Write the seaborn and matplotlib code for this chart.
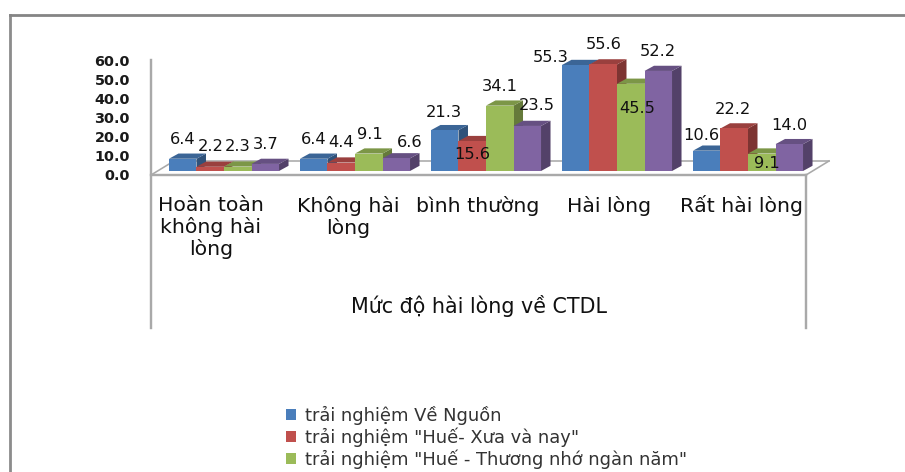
import matplotlib
matplotlib.use("Agg")
import matplotlib.pyplot as plt
from matplotlib.lines import Line2D
from matplotlib.patches import Polygon
from matplotlib.transforms import ScaledTranslation
from matplotlib.colors import to_rgb
import pandas as pd
import seaborn as sns

categories = ["Hoàn toàn không hài lòng", "Không hài lòng", "bình thường", "Hài lòng", "Rất hài lòng"]
tick_labels = ["Hoàn toàn\nkhông hài\nlòng", "Không hài\nlòng", "bình thường", "Hài lòng", "Rất hài lòng"]
series_names = ['trải nghiệm Về Nguồn', 'trải nghiệm "Huế- Xưa và nay"',
                'trải nghiệm "Huế - Thương nhớ ngàn năm"', 'trải nghiệm khác']
ve_nguon = [6.4, 6.4, 21.3, 55.3, 10.6]
xua_va_nay = [2.2, 4.4, 15.6, 55.6, 22.2]
thuong_nho = [2.3, 9.1, 34.1, 45.5, 9.1]
khac = [3.7, 6.6, 23.5, 52.2, 14.0]
colors = ["#4a7ebb", "#c0504d", "#9bbb59", "#8064a2"]
y_ticks = [0, 10, 20, 30, 40, 50, 60]
axis_title = "Mức độ hài lòng về CTDL"

W, H = 905, 472
sns.set_theme(style="white")
plt.rcParams["font.family"] = ["DejaVu Sans"]

rows = []
for name, vals in zip(series_names, [ve_nguon, xua_va_nay, thuong_nho, khac]):
    for c, v in zip(categories, vals):
        rows.append({"cat": c, "series": name, "value": v})
df = pd.DataFrame(rows)

fig = plt.figure(figsize=(W / 100, H / 100), dpi=100, facecolor="white")
ax = fig.add_axes([158.5 / W, (H - 171) / H, 655 / W, 115 / H])
ax.patch.set_alpha(0)
sns.barplot(data=df, x="cat", y="value", hue="series", palette=colors, width=0.84, gap=0,
            saturation=1, errorbar=None, ax=ax, linewidth=0)
ax.set_xlim(-0.5, 4.5)
ax.set_ylim(0, 60)
sns.despine(ax=ax, left=True, bottom=True)
ax.set_ylabel("")


def px(x, y):
    return x / W, 1 - y / H


def shade(c, f):
    return tuple(v * f for v in to_rgb(c))


grey = "#a9a9a9"
for (x0, y0), (x1, y1), col, lw in [
    ((151, 60), (151, 328), grey, 2.4),
    ((806, 175), (806, 328), grey, 2.4),
    ((151, 175), (806, 175), grey, 2.4),
    ((151, 175), (174, 161), grey, 1.6),
    ((806, 175), (829, 161), grey, 1.6),
    ((174, 161), (829, 161), grey, 1.6),
    ((10, 15), (10, 472), "#8c8c8c", 2.8),
    ((10, 15), (905, 15), "#858585", 2.8),
]:
    a, b = px(x0, y0), px(x1, y1)
    fig.add_artist(Line2D([a[0], b[0]], [a[1], b[1]], color=col, lw=lw * 0.72, solid_capstyle="projecting", zorder=0))

# 3-D faces derived from the bars that seaborn drew
dx = 9.5 / 131
dy = 5.2 / (115 / 60)
bars = []
for cont, col in zip(ax.containers, colors):
    for p in cont.patches:
        bars.append((p, col))
bars.sort(key=lambda t: t[0].get_x())
z = 3
for p, col in bars:
    x, w, h = p.get_x(), p.get_width(), p.get_height()
    ax.add_patch(Polygon([(x + w, 0), (x + w + dx, dy), (x + w + dx, h + dy), (x + w, h)],
                         fc=shade(col, 0.65), ec="none", zorder=z, clip_on=False))
    ax.add_patch(Polygon([(x, h), (x + dx, h + dy), (x + w + dx, h + dy), (x + w, h)],
                         fc=shade(col, 0.8), ec="none", zorder=z + 0.1, clip_on=False))
    p.set_zorder(z + 0.2)
    p.set_clip_on(False)
    z += 1

# label offsets from each bar's top centre, in pixels
offsets = [
    [(0, 19.7), (0, 19.7), (-1, 18), (-25, 8), (-5, 15)],
    [(0, 19.8), (0, 19.6), (0, -13), (0, 20), (-1, 19)],
    [(0, 19.6), (1, 18.6), (0, 19.6), (6, -25), (5, -10)],
    [(0, 19), (13, 16.3), (9.4, 20), (0, 19), (0, 19)],
]
for cont, offs in zip(ax.containers, offsets):
    for p, (ox, oy) in zip(cont.patches, offs):
        ax.annotate(f"{p.get_height():.1f}", (p.get_x() + p.get_width() / 2, p.get_height()),
                    xytext=(ox * 0.72, oy * 0.72), textcoords="offset points", ha="center", va="center",
                    fontsize=11.7, color="#111111", zorder=100, annotation_clip=False)

ax.set_yticks(y_ticks)
ax.set_yticklabels([f"{v:.1f}" for v in y_ticks], fontsize=10.4, fontweight="bold", color="#1a1a1a")
ax.tick_params(axis="y", length=0, pad=20.5)
ax.set_xticks(range(len(tick_labels)))
ax.set_xticklabels(tick_labels, fontsize=14.7, color="#111111", linespacing=1.12, va="top")
ax.tick_params(axis="x", length=0, pad=18)
for lab in ax.get_yticklabels():
    lab.set_transform(lab.get_transform() + ScaledTranslation(0, -4 / 100, fig.dpi_scale_trans))
for lab, sx, sy in zip(ax.get_xticklabels(), [-13, -7, -8, -8, -7], [0, 0, 0, 0, 1.5]):
    lab.set_transform(lab.get_transform() + ScaledTranslation(sx / 100, sy / 100, fig.dpi_scale_trans))

ax.set_xlabel(axis_title, fontsize=14.9, color="#111111")
ax.xaxis.set_label_coords((479 - 158.5) / 655, (171 - 306) / 115)
ax.xaxis.label.set_va("center")

handles, labels = ax.get_legend_handles_labels()
leg = ax.legend(handles[:3], labels[:3], loc="upper left", bbox_to_anchor=px(286, 406),
                bbox_transform=fig.transFigure, frameon=False, fontsize=12.9, handlelength=0.56, handleheight=0.56,
                handletextpad=0.5, labelspacing=0.13, borderpad=0, borderaxespad=0)
for t in leg.get_texts():
    t.set_color("#333333")

fig.savefig("out.png", dpi=100)
